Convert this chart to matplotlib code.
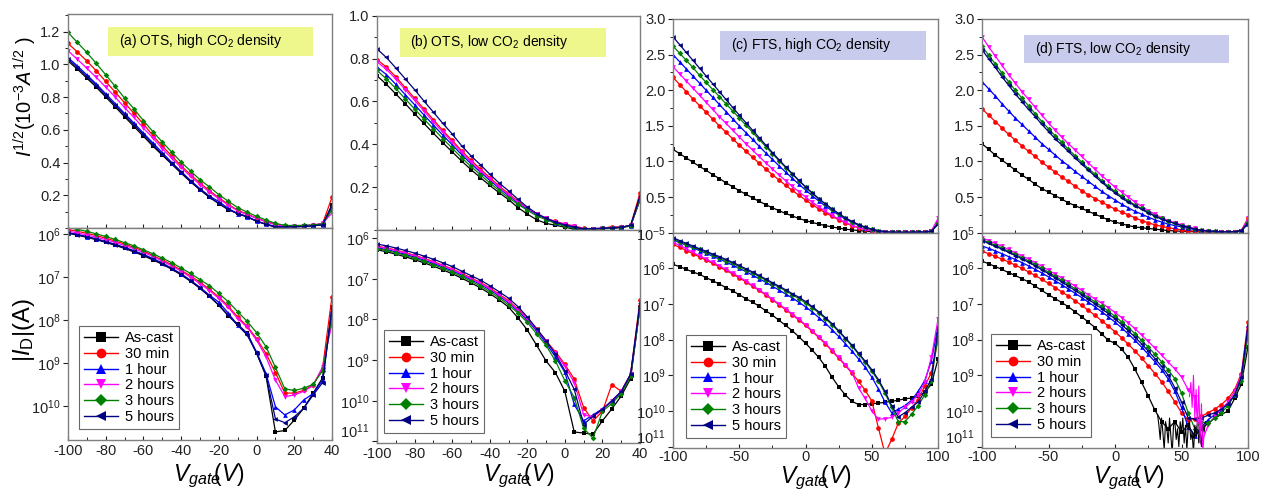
import numpy as np
import matplotlib
matplotlib.use("Agg")
import matplotlib.pyplot as plt
from matplotlib.lines import Line2D
from matplotlib.patches import Rectangle
from matplotlib.ticker import MultipleLocator, FixedLocator, NullLocator

plt.rcParams['font.family'] = ['Liberation Sans', 'DejaVu Sans']
plt.rcParams['mathtext.fontset'] = 'custom'
plt.rcParams['mathtext.rm'] = 'Liberation Sans'
plt.rcParams['mathtext.it'] = 'Liberation Sans:italic'
plt.rcParams['mathtext.bf'] = 'Liberation Sans:bold'
plt.rcParams['axes.unicode_minus'] = False

# legend / series
names = ["As-cast", "30 min", "1 hour", "2 hours", "3 hours", "5 hours"]
colors = ["#000000", "#ff0000", "#0000ff", "#ff00ff", "#008000", "#000080"]
markers = ["s", "o", "^", "v", "D", "<"]

# gate voltage grids (V)
v_ots = np.arange(-100, 45, 5)
v_fts = np.arange(-100, 105, 5)

# ---- (a) OTS high CO2 : |I_D| in uA ----
a_cast = [1.040, 0.941, 0.837, 0.740, 0.640, 0.548, 0.462, 0.384, 0.314, 0.250,
          0.198, 0.152, 0.112, 0.0795, 0.0543, 0.0353, 0.0219, 0.0125, 0.0080, 0.0049,
          0.0017, 5.0e-4, 2.5e-5, 2.7e-5, 4.7e-5, 8.9e-5, 2.0e-4, 4.5e-4, 0.020]
a_30min = [1.270, 1.156, 1.040, 0.922, 0.801, 0.689, 0.585, 0.490, 0.403, 0.319,
           0.250, 0.194, 0.144, 0.106, 0.0756, 0.052, 0.0342, 0.021, 0.0117, 0.0072,
           0.0037, 0.00166, 6.0e-4, 2.0e-4, 2.0e-4, 2.3e-4, 3.1e-4, 7.6e-4, 0.035]
a_1h = [1.082, 0.980, 0.874, 0.774, 0.672, 0.578, 0.490, 0.410, 0.336, 0.270,
        0.212, 0.160, 0.119, 0.0841, 0.0576, 0.038, 0.026, 0.0145, 0.0075, 0.0049,
        0.0018, 5.7e-4, 9.6e-5, 6.2e-5, 8.1e-5, 1.38e-4, 1.95e-4, 4.0e-4, 0.017]
a_2h = [1.171, 1.061, 0.951, 0.846, 0.740, 0.640, 0.540, 0.456, 0.372, 0.303,
        0.235, 0.181, 0.137, 0.099, 0.070, 0.0484, 0.0317, 0.0196, 0.0108, 0.0068,
        0.0034, 0.0014, 4.0e-4, 1.66e-4, 1.8e-4, 2.2e-4, 3.0e-4, 8.1e-4, 0.0083]
a_3h = [1.426, 1.284, 1.149, 1.010, 0.876, 0.748, 0.630, 0.529, 0.430, 0.347,
        0.276, 0.215, 0.162, 0.121, 0.087, 0.063, 0.0416, 0.0266, 0.0156, 0.0093,
        0.0051, 0.0024, 7.9e-4, 2.5e-4, 2.3e-4, 2.6e-4, 3.2e-4, 6.6e-4, 0.012]
a_5h = [1.061, 0.960, 0.856, 0.757, 0.656, 0.5625, 0.476, 0.397, 0.325, 0.260,
        0.2025, 0.156, 0.1156, 0.0812, 0.0557, 0.0361, 0.0225, 0.0128, 0.0075, 0.0045,
        0.0017, 5.2e-4, 5.0e-5, 4.1e-5, 5.6e-5, 8.9e-5, 1.8e-4, 3.5e-4, 0.019]

# ---- (b) OTS low CO2 : |I_D| in uA ----
b_cast = [0.518, 0.462, 0.403, 0.348, 0.295, 0.247, 0.204, 0.166, 0.133, 0.104,
          0.0795, 0.060, 0.0433, 0.0303, 0.0202, 0.011, 0.0055, 0.0023, 9.5e-4, 4.9e-4,
          1.7e-4, 1.7e-5, 1.6e-5, 1.5e-5, 3.2e-5, 6.3e-5, 1.3e-4, 3.5e-4, 0.020]
b_30min = [0.632, 0.578, 0.511, 0.442, 0.378, 0.319, 0.265, 0.216, 0.175, 0.137,
           0.106, 0.081, 0.060, 0.042, 0.029, 0.018, 0.011, 0.0058, 0.0030, 0.0016,
           7.9e-4, 3.4e-4, 6.8e-5, 3.2e-5, 5.5e-5, 2.5e-4, 1.7e-4, 4.5e-4, 0.030]
b_1h = [0.578, 0.526, 0.462, 0.399, 0.342, 0.288, 0.240, 0.196, 0.158, 0.124,
        0.096, 0.073, 0.054, 0.038, 0.0256, 0.0161, 0.0096, 0.0052, 0.0026, 0.0012,
        5.0e-4, 8.1e-5, 3.2e-5, 4.5e-5, 6.3e-5, 9.5e-5, 1.6e-4, 4.3e-4, 0.020]
b_2h = [0.616, 0.5625, 0.497, 0.429, 0.366, 0.308, 0.255, 0.209, 0.168, 0.132,
        0.101, 0.077, 0.057, 0.040, 0.027, 0.0172, 0.0104, 0.0056, 0.0029, 0.0015,
        7.0e-4, 2.8e-4, 4.5e-5, 4.0e-5, 6.0e-5, 1.0e-4, 1.7e-4, 4.5e-4, 0.020]
b_3h = [0.555, 0.497, 0.436, 0.375, 0.319, 0.268, 0.223, 0.182, 0.146, 0.114,
        0.088, 0.0666, 0.0484, 0.0342, 0.0228, 0.0144, 0.0085, 0.0044, 0.0023, 9.5e-4,
        3.1e-4, 1.2e-4, 2.1e-5, 1.2e-5, 5.5e-5, 8.5e-5, 1.5e-4, 4.0e-4, 0.020]
b_5h = [0.714, 0.648, 0.572, 0.498, 0.429, 0.362, 0.3025, 0.248, 0.2007, 0.155,
        0.120, 0.093, 0.068, 0.048, 0.0335, 0.0207, 0.0115, 0.0059, 0.0030, 0.0014,
        5.5e-4, 1.9e-4, 2.6e-5, 4.2e-5, 6.2e-5, 1.0e-4, 1.7e-4, 4.5e-4, 0.025]

# ---- (c) FTS high CO2 : sqrt(I) (1e-3 A^1/2) and log10|I_D| ----
c_cast_sq = [1.17, 1.11, 1.05, 0.99, 0.93, 0.875, 0.815, 0.76, 0.70, 0.645,
             0.59, 0.54, 0.49, 0.44, 0.395, 0.35, 0.31, 0.27, 0.235, 0.20,
             0.17, 0.145, 0.12, 0.10, 0.08, 0.065, 0.05, 0.04, 0.03, 0.022,
             0.016, 0.012, 0.009, 0.007, 0.006, 0.006, 0.006, 0.008, 0.01, 0.02, 0.12]
c_30min_sq = [2.18, 2.08, 1.98, 1.88, 1.785, 1.69, 1.595, 1.50, 1.41, 1.32,
              1.23, 1.145, 1.06, 0.975, 0.895, 0.815, 0.74, 0.665, 0.595, 0.525,
              0.46, 0.395, 0.335, 0.28, 0.23, 0.18, 0.14, 0.10, 0.07, 0.045,
              0.027, 0.014, 0.006, 0.003, 0.003, 0.004, 0.005, 0.007, 0.01, 0.02, 0.15]
c_1h_sq = [2.50, 2.40, 2.30, 2.20, 2.10, 2.00, 1.90, 1.80, 1.70, 1.60,
           1.50, 1.405, 1.31, 1.215, 1.12, 1.03, 0.94, 0.85, 0.765, 0.68,
           0.60, 0.52, 0.445, 0.375, 0.31, 0.25, 0.195, 0.145, 0.105, 0.07,
           0.045, 0.025, 0.012, 0.005, 0.003, 0.004, 0.005, 0.007, 0.01, 0.02, 0.14]
c_2h_sq = [2.33, 2.23, 2.13, 2.03, 1.93, 1.83, 1.73, 1.63, 1.535, 1.44,
           1.345, 1.25, 1.16, 1.07, 0.98, 0.895, 0.81, 0.73, 0.65, 0.575,
           0.50, 0.43, 0.365, 0.30, 0.245, 0.19, 0.145, 0.105, 0.07, 0.045,
           0.027, 0.014, 0.007, 0.004, 0.004, 0.005, 0.006, 0.008, 0.012, 0.025, 0.20]
c_3h_sq = [2.62, 2.52, 2.42, 2.32, 2.21, 2.11, 2.01, 1.91, 1.81, 1.71,
           1.61, 1.51, 1.41, 1.31, 1.21, 1.11, 1.01, 0.915, 0.82, 0.73,
           0.64, 0.555, 0.475, 0.40, 0.33, 0.265, 0.205, 0.155, 0.11, 0.075,
           0.047, 0.027, 0.013, 0.005, 0.003, 0.004, 0.005, 0.007, 0.01, 0.02, 0.13]
c_5h_sq = [2.75, 2.64, 2.53, 2.42, 2.31, 2.20, 2.09, 1.98, 1.87, 1.76,
           1.65, 1.545, 1.44, 1.335, 1.23, 1.125, 1.025, 0.925, 0.83, 0.735,
           0.645, 0.56, 0.48, 0.405, 0.335, 0.27, 0.21, 0.16, 0.115, 0.08,
           0.05, 0.03, 0.015, 0.006, 0.004, 0.004, 0.005, 0.007, 0.01, 0.02, 0.12]

c_cast_log = [-5.89, -5.95, -6.03, -6.10, -6.17, -6.26, -6.35, -6.44, -6.54, -6.63,
              -6.74, -6.85, -6.95, -7.06, -7.19, -7.31, -7.46, -7.60, -7.75, -7.92,
              -8.10, -8.29, -8.50, -8.75, -9.05, -9.32, -9.55, -9.73, -9.82, -9.82,
              -9.80, -9.78, -9.76, -9.73, -9.70, -9.66, -9.64, -9.58, -9.48, -9.25, -8.55]
c_30min_log = [-5.33, -5.41, -5.50, -5.59, -5.68, -5.77, -5.86, -5.96, -6.06, -6.16,
               -6.27, -6.38, -6.50, -6.62, -6.75, -6.88, -7.02, -7.16, -7.30, -7.45,
               -7.60, -7.77, -7.94, -8.12, -8.32, -8.52, -8.72, -8.94, -9.17, -9.42,
               -9.72, -10.47, -11.2, -10.8, -10.35, -10.15, -9.92, -9.68, -9.30, -8.93, -8.00]
c_1h_log = [-5.20, -5.28, -5.35, -5.43, -5.50, -5.58, -5.66, -5.74, -5.82, -5.91,
            -6.00, -6.09, -6.19, -6.29, -6.39, -6.50, -6.61, -6.72, -6.83, -6.95,
            -7.08, -7.22, -7.38, -7.54, -7.72, -7.91, -8.11, -8.32, -8.54, -8.77,
            -9.05, -9.38, -9.75, -10.05, -9.95, -9.85, -9.70, -9.45, -9.15, -8.60, -7.62]
c_2h_log = [-5.28, -5.35, -5.45, -5.55, -5.65, -5.74, -5.83, -5.93, -6.03, -6.13,
            -6.24, -6.36, -6.48, -6.60, -6.73, -6.86, -7.00, -7.14, -7.28, -7.43,
            -7.58, -7.75, -7.92, -8.10, -8.30, -8.50, -8.70, -8.92, -9.35, -9.65,
            -10.0, -10.23, -10.22, -10.18, -10.05, -9.90, -9.75, -9.55, -9.20, -8.50, -7.43]
c_3h_log = [-5.17, -5.25, -5.32, -5.40, -5.47, -5.55, -5.62, -5.70, -5.78, -5.86,
            -5.95, -6.04, -6.13, -6.23, -6.33, -6.43, -6.53, -6.63, -6.74, -6.85,
            -6.97, -7.10, -7.25, -7.41, -7.58, -7.77, -7.97, -8.18, -8.40, -8.63,
            -8.88, -9.16, -9.50, -9.90, -10.30, -10.30, -10.10, -9.85, -9.55, -9.15, -7.90]
c_5h_log = [-5.14, -5.22, -5.30, -5.37, -5.45, -5.52, -5.60, -5.67, -5.75, -5.83,
            -5.92, -6.01, -6.10, -6.20, -6.30, -6.40, -6.50, -6.60, -6.71, -6.81,
            -6.93, -7.07, -7.22, -7.38, -7.55, -7.75, -7.95, -8.15, -8.38, -8.60,
            -8.84, -9.12, -9.45, -9.85, -10.17, -10.05, -9.90, -9.75, -9.45, -9.10, -7.70]

# ---- (d) FTS low CO2 ----
d_cast_sq = [1.25, 1.17, 1.09, 1.02, 0.95, 0.88, 0.81, 0.75, 0.68, 0.62,
             0.57, 0.52, 0.47, 0.42, 0.38, 0.34, 0.30, 0.26, 0.22, 0.18,
             0.15, 0.125, 0.10, 0.08, 0.07, 0.06, 0.05, 0.04, 0.03, 0.025,
             0.02, 0.017, 0.014, 0.012, 0.01, 0.01, 0.01, 0.01, 0.012, 0.025, 0.15]
d_30min_sq = [1.74, 1.65, 1.56, 1.47, 1.38, 1.30, 1.22, 1.14, 1.07, 0.99,
              0.92, 0.85, 0.78, 0.72, 0.65, 0.59, 0.53, 0.48, 0.43, 0.38,
              0.33, 0.29, 0.25, 0.21, 0.17, 0.14, 0.11, 0.09, 0.07, 0.055,
              0.04, 0.03, 0.022, 0.017, 0.013, 0.01, 0.009, 0.01, 0.013, 0.03, 0.20]
d_1h_sq = [2.12, 2.02, 1.92, 1.81, 1.71, 1.61, 1.52, 1.43, 1.34, 1.25,
           1.17, 1.09, 1.01, 0.94, 0.86, 0.79, 0.72, 0.65, 0.58, 0.52,
           0.46, 0.40, 0.35, 0.30, 0.26, 0.22, 0.18, 0.15, 0.12, 0.10,
           0.08, 0.06, 0.045, 0.035, 0.025, 0.018, 0.013, 0.012, 0.015, 0.03, 0.12]
d_2h_sq = [2.75, 2.61, 2.48, 2.35, 2.22, 2.10, 1.98, 1.87, 1.76, 1.65,
           1.54, 1.44, 1.34, 1.25, 1.16, 1.07, 0.98, 0.89, 0.80, 0.72,
           0.64, 0.57, 0.50, 0.43, 0.37, 0.31, 0.26, 0.21, 0.17, 0.14,
           0.11, 0.085, 0.06, 0.03, 0.02, 0.015, 0.012, 0.012, 0.015, 0.03, 0.20]
d_3h_sq = [2.62, 2.49, 2.37, 2.24, 2.12, 2.00, 1.89, 1.78, 1.67, 1.56,
           1.46, 1.36, 1.27, 1.17, 1.08, 0.99, 0.90, 0.82, 0.73, 0.65,
           0.58, 0.51, 0.45, 0.39, 0.34, 0.29, 0.24, 0.20, 0.16, 0.13,
           0.10, 0.075, 0.05, 0.035, 0.025, 0.018, 0.013, 0.012, 0.015, 0.03, 0.15]
d_5h_sq = [2.57, 2.44, 2.32, 2.19, 2.07, 1.95, 1.84, 1.73, 1.63, 1.52,
           1.42, 1.32, 1.23, 1.14, 1.05, 0.96, 0.88, 0.79, 0.71, 0.63,
           0.56, 0.49, 0.43, 0.38, 0.33, 0.28, 0.23, 0.19, 0.16, 0.13,
           0.10, 0.075, 0.05, 0.035, 0.025, 0.018, 0.013, 0.012, 0.015, 0.03, 0.13]

d_cast_log = [-5.80, -5.87, -5.95, -6.03, -6.12, -6.20, -6.29, -6.38, -6.50, -6.62,
              -6.74, -6.85, -6.96, -7.08, -7.22, -7.36, -7.51, -7.66, -7.84, -8.02,
              -8.10, -8.27, -8.50, -8.83, -9.20, -9.58, -9.98, -10.3, -10.5, -10.3,
              -10.6, -10.4, -10.7, -10.5, -10.35, -10.2, -10.1, -10.0, -9.65, -9.25, -8.20]
d_30min_log = [-5.52, -5.59, -5.66, -5.74, -5.82, -5.91, -6.00, -6.10, -6.20, -6.31,
               -6.42, -6.54, -6.66, -6.78, -6.91, -7.04, -7.18, -7.32, -7.47, -7.62,
               -7.78, -7.95, -8.13, -8.32, -8.52, -8.73, -8.95, -9.18, -9.45, -9.75,
               -10.05, -10.25, -10.22, -10.15, -10.05, -9.95, -9.82, -9.65, -9.40, -8.95, -7.50]
d_1h_log = [-5.37, -5.44, -5.51, -5.59, -5.67, -5.75, -5.84, -5.93, -6.03, -6.13,
            -6.24, -6.35, -6.46, -6.58, -6.70, -6.82, -6.95, -7.08, -7.22, -7.36,
            -7.51, -7.67, -7.84, -8.02, -8.21, -8.41, -8.62, -8.84, -9.10, -9.45,
            -9.90, -10.45, -10.7, -10.45, -10.25, -10.1, -9.95, -9.80, -9.55, -9.10, -7.60]
d_2h_log = [-5.14, -5.22, -5.30, -5.38, -5.47, -5.56, -5.65, -5.74, -5.84, -5.94,
            -6.05, -6.16, -6.27, -6.38, -6.50, -6.62, -6.74, -6.86, -6.98, -7.10,
            -7.24, -7.38, -7.53, -7.69, -7.87, -8.05, -8.24, -8.43, -8.63, -8.82,
            -9.05, -9.40, -9.60, -10.9, -10.4, -10.15, -9.95, -9.75, -9.45, -9.00, -7.70]
d_3h_log = [-5.19, -5.27, -5.35, -5.43, -5.52, -5.61, -5.70, -5.79, -5.89, -6.00,
            -6.11, -6.22, -6.33, -6.45, -6.57, -6.69, -6.82, -6.94, -7.07, -7.20,
            -7.35, -7.50, -7.66, -7.83, -8.02, -8.21, -8.41, -8.62, -8.85, -9.10,
            -9.50, -10.05, -10.5, -10.3, -10.35, -10.2, -10.05, -9.85, -9.55, -9.15, -7.90]
d_5h_log = [-5.22, -5.30, -5.38, -5.46, -5.55, -5.64, -5.73, -5.83, -5.93, -6.04,
            -6.15, -6.26, -6.38, -6.50, -6.62, -6.74, -6.87, -7.00, -7.13, -7.27,
            -7.42, -7.58, -7.75, -7.93, -8.12, -8.32, -8.53, -8.75, -9.00, -9.35,
            -9.75, -10.2, -10.22, -10.2, -10.12, -10.05, -9.95, -9.80, -9.55, -9.05, -7.62]

# noisy off-state pieces of (d), 1 V steps (line only)
d_cast_noise_v = np.arange(32, 69)
d_cast_noise = [-10.1, -10.4, -10.8, -10.2, -10.6, -11.1, -10.3, -10.5, -10.9, -10.2,
                -10.7, -11.2, -10.4, -10.3, -10.8, -10.5, -11.0, -10.3, -10.6, -10.2,
                -10.9, -10.4, -11.1, -10.5, -10.3, -10.8, -10.6, -11.2, -10.4, -10.7,
                -10.3, -10.9, -10.5, -11.0, -10.4, -10.6, -10.3]
d_2h_noise_v = np.arange(56, 68)
d_2h_noise = [-9.6, -9.2, -9.9, -9.0, -10.2, -9.4, -10.5, -9.3, -10.8, -9.8, -11.2, -10.6]

fig = plt.figure(figsize=(12.62, 4.92), dpi=100)
W, H = 1262.0, 492.0


def rect(x0, y0, x1, y1):
    return [x0 / W, 1 - y1 / H, (x1 - x0) / W, (y1 - y0) / H]


spine_col = "#7f7f7f"


def style_axes(ax, xpad):
    for s in ax.spines.values():
        s.set_color(spine_col)
        s.set_linewidth(1.0)
    ax.tick_params(axis='both', labelsize=10.5, colors="#222222", length=3.5,
                   width=0.8, pad=2)
    ax.tick_params(axis='x', which='both', direction='in', top=False, length=3, pad=xpad)
    ax.tick_params(axis='y', which='both', direction='out', right=False)
    ax.tick_params(which='minor', length=2)


def draw(ax_top, ax_bot, v, tops, bots, xlim, xmaj, xmin, xpad):
    for k in range(6):
        st = dict(color=colors[k], marker=markers[k], ms=3.4 if markers[k] != 'D' else 2.9,
                  lw=0.9, mew=0, clip_on=True)
        ax_top.plot(v, tops[k], **st)
        ax_bot.plot(v, bots[k], **st)
    for ax in (ax_top, ax_bot):
        ax.set_xlim(*xlim)
        ax.xaxis.set_major_locator(MultipleLocator(xmaj))
        ax.xaxis.set_minor_locator(MultipleLocator(xmin))
        style_axes(ax, xpad)
    ax_top.tick_params(labelbottom=False)
    ax_bot.set_yscale('log')
    ax_bot.yaxis.set_minor_locator(NullLocator())


def title_box(ax, x0, y0, w, h, text, fc):
    ax.add_patch(Rectangle((x0, y0), w, h, transform=ax.transAxes, fc=fc, ec='none',
                           zorder=0))
    ax.text(x0 + 0.04, y0 + h / 2, text, transform=ax.transAxes, fontsize=10,
            va='center', ha='left', zorder=1)


def add_legend(ax, x, y):
    handles = [Line2D([0], [0], color=colors[k], marker=markers[k],
                      ms=7 if markers[k] != 'D' else 6, lw=1.0, mew=0)
               for k in range(6)]
    leg = ax.legend(handles, names, loc='lower left', bbox_to_anchor=(x, y),
                    borderaxespad=0, fontsize=10.5, frameon=True, fancybox=False,
                    edgecolor="#444444", handlelength=2.3, handletextpad=0.5,
                    labelspacing=0.12, borderpad=0.35)
    leg.get_frame().set_linewidth(0.8)


def set_log_labels(ax, locs, labels):
    ax.yaxis.set_major_locator(FixedLocator(locs))
    ax.set_yticklabels(labels)
    # lowest label sits right on the corner; lift it a little
    ax.get_yticklabels()[-1].set_verticalalignment('bottom')


# axes
ax_at = fig.add_axes(rect(68, 14, 332, 228))
ax_ab = fig.add_axes(rect(68, 228, 332, 440))
ax_bt = fig.add_axes(rect(377, 15.7, 640, 230))
ax_bb = fig.add_axes(rect(377, 230, 640, 443))
ax_ct = fig.add_axes(rect(673, 19, 938, 232.7))
ax_cb = fig.add_axes(rect(673, 232.7, 938, 448))
ax_dt = fig.add_axes(rect(982, 19, 1248, 232.7))
ax_db = fig.add_axes(rect(982, 232.7, 1248, 448))

# (a)
a_uA = [a_cast, a_30min, a_1h, a_2h, a_3h, a_5h]
draw(ax_at, ax_ab, v_ots, [np.sqrt(s) for s in a_uA],
     [np.array(s) * 1e-6 for s in a_uA], (-100, 40), 20, 10, 3)
ax_at.set_ylim(0, 1.307)
ax_at.yaxis.set_major_locator(FixedLocator([0.2, 0.4, 0.6, 0.8, 1.0, 1.2]))
ax_at.yaxis.set_minor_locator(MultipleLocator(0.1))
ax_ab.set_ylim(10 ** -10.79, 10 ** -5.86)
ax_ab.yaxis.set_major_locator(FixedLocator([1e-6, 1e-7, 1e-8, 1e-9, 1e-10]))
ax_ab.set_yticklabels([r'$10^{6}$', r'$10^{7}$', r'$10^{8}$', r'$10^{9}$', r'$10^{10}$'])
title_box(ax_at, 0.152, 0.804, 0.777, 0.135, r'(a) OTS, high CO$_2$ density', "#eef78c")
add_legend(ax_ab, 0.042, 0.052)

# (b)
b_uA = [b_cast, b_30min, b_1h, b_2h, b_3h, b_5h]
draw(ax_bt, ax_bb, v_ots, [np.sqrt(s) for s in b_uA],
     [np.array(s) * 1e-6 for s in b_uA], (-100, 40), 20, 10, 3)
ax_bt.set_ylim(0, 1.0)
ax_bt.yaxis.set_major_locator(FixedLocator([0.2, 0.4, 0.6, 0.8, 1.0]))
ax_bt.yaxis.set_minor_locator(MultipleLocator(0.1))
ax_bb.set_ylim(10 ** -11.04, 10 ** -5.80)
set_log_labels(ax_bb, [1e-6, 1e-7, 1e-8, 1e-9, 1e-10, 1e-11],
               [r'$10^{6}$', r'$10^{7}$', r'$10^{8}$', r'$10^{9}$', r'$10^{10}$',
                r'$10^{11}$'])
title_box(ax_bt, 0.087, 0.807, 0.783, 0.136, r'(b) OTS, low CO$_2$ density', "#eef78c")
add_legend(ax_bb, 0.027, 0.047)

# (c)
c_sq = [c_cast_sq, c_30min_sq, c_1h_sq, c_2h_sq, c_3h_sq, c_5h_sq]
c_log = [c_cast_log, c_30min_log, c_1h_log, c_2h_log, c_3h_log, c_5h_log]
draw(ax_ct, ax_cb, v_fts, c_sq, [10.0 ** np.array(s) for s in c_log],
     (-100, 100), 50, 25, 1.5)
ax_ct.set_ylim(0, 3.0)
ax_ct.yaxis.set_major_locator(FixedLocator([0.5, 1.0, 1.5, 2.0, 2.5, 3.0]))
ax_ct.yaxis.set_minor_locator(MultipleLocator(0.25))
ax_cb.set_ylim(10 ** -11.04, 1e-5)
set_log_labels(ax_cb, [1e-5, 1e-6, 1e-7, 1e-8, 1e-9, 1e-10, 1e-11],
               [r'$10^{-5}$', r'$10^{6}$', r'$10^{7}$', r'$10^{8}$', r'$10^{9}$',
                r'$10^{10}$', r'$10^{11}$'])
title_box(ax_ct, 0.177, 0.808, 0.777, 0.136, r'(c) FTS, high CO$_2$ density', "#c9cbec")
add_legend(ax_cb, 0.049, 0.047)

# (d)
d_sq = [d_cast_sq, d_30min_sq, d_1h_sq, d_2h_sq, d_3h_sq, d_5h_sq]
d_log = [d_cast_log, d_30min_log, d_1h_log, d_2h_log, d_3h_log, d_5h_log]
draw(ax_dt, ax_db, v_fts, d_sq, [10.0 ** np.array(s) for s in d_log],
     (-100, 100), 50, 25, 1.5)
ax_db.plot(d_cast_noise_v, 10.0 ** np.array(d_cast_noise), color=colors[0], lw=0.8)
ax_db.plot(d_2h_noise_v, 10.0 ** np.array(d_2h_noise), color=colors[3], lw=0.8)
ax_dt.set_ylim(0, 3.0)
ax_dt.yaxis.set_major_locator(FixedLocator([0.5, 1.0, 1.5, 2.0, 2.5, 3.0]))
ax_dt.yaxis.set_minor_locator(MultipleLocator(0.25))
ax_db.set_ylim(10 ** -11.04, 1e-5)
set_log_labels(ax_db, [1e-5, 1e-6, 1e-7, 1e-8, 1e-9, 1e-10, 1e-11],
               [r'$10^{5}$', r'$10^{6}$', r'$10^{7}$', r'$10^{8}$', r'$10^{9}$',
                r'$10^{10}$', r'$10^{11}$'])
title_box(ax_dt, 0.158, 0.792, 0.771, 0.133, r'(d) FTS, low CO$_2$ density', "#c9cbec")
add_legend(ax_db, 0.034, 0.051)

# x labels, one under each column
for xc, yb in ((209, 481), (519, 481), (816, 483.5), (1129, 483.5)):
    fig.text(xc / W, 1 - yb / H, r'$\mathit{V_{gate}\!\!(V)}$', fontsize=16.5,
             ha='center', va='baseline')

# y labels
fig.text(25 / W, 1 - 97 / H, r'$\mathit{I^{1/2}(10^{-3}A^{1/2}\ )}$', rotation=90,
         fontsize=14.5, ha='center', va='center')
fig.text(24 / W, 1 - 330 / H, r'$|\mathit{I}_{\rm D}|$(A)', rotation=90,
         fontsize=17, ha='center', va='center')

fig.savefig("out.png", dpi=100)
